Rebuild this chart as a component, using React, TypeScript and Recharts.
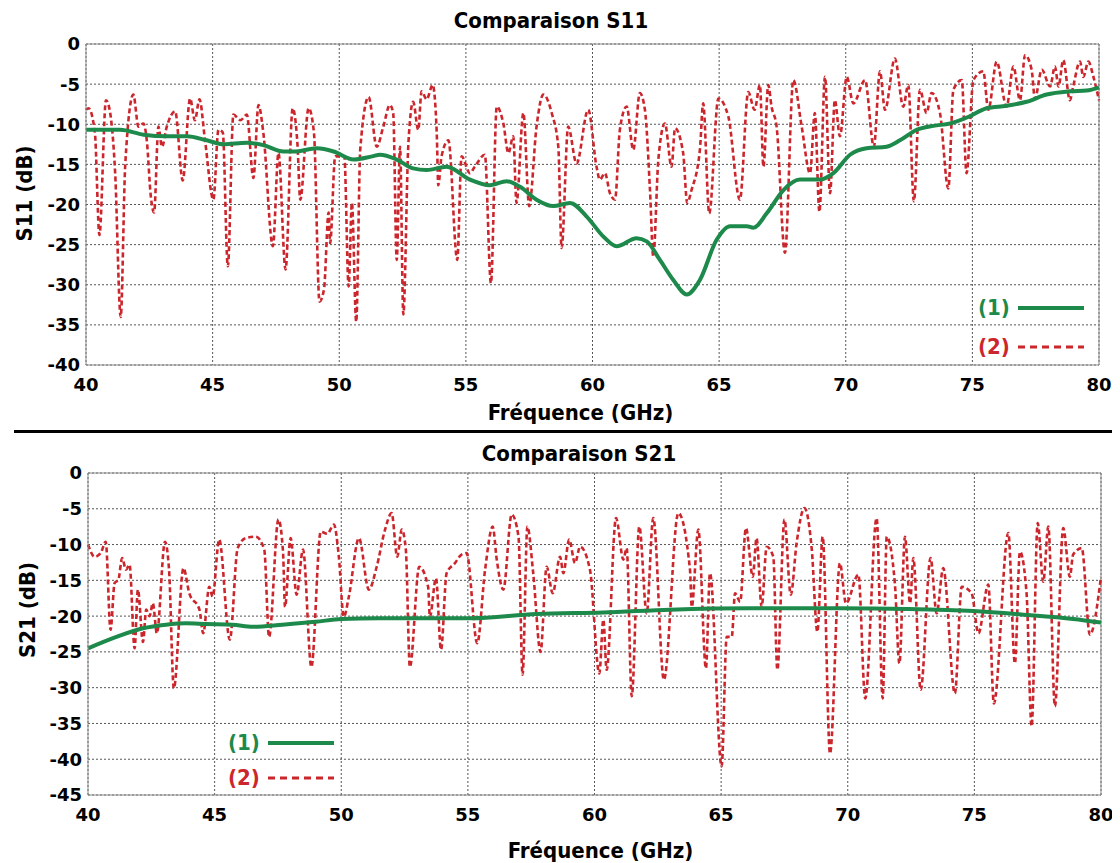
import { LineChart, Line, XAxis, YAxis, CartesianGrid, ReferenceLine, Legend } from 'recharts';

const freqTicks = [40, 45, 50, 55, 60, 65, 70, 75, 80];
const s11Ticks = [0, -5, -10, -15, -20, -25, -30, -35, -40];
const s21Ticks = [0, -5, -10, -15, -20, -25, -30, -35, -40, -45];

// (1) solid green curve, S11: [GHz, dB]
const s11Curve1: [number, number][] = [
  [40, -10.7], [41.34, -10.7], [42.27, -11.3], [43.19, -11.5], [43.98, -11.5], [44.77, -12.0],
  [45.43, -12.5], [46.35, -12.3], [47.0, -12.6], [47.8, -13.4], [48.2, -13.4], [49.12, -13.0],
  [49.78, -13.4], [50.57, -14.4], [51.3, -14.0], [51.61, -13.8], [52.27, -14.4], [52.92, -15.5],
  [53.45, -15.7], [54.24, -15.3], [55.16, -16.9], [55.95, -17.6], [56.61, -17.1], [57.14, -17.8],
  [57.79, -19.4], [58.45, -20.2], [59.11, -19.8], [59.77, -21.5], [60.43, -24.0], [60.95, -25.2],
  [61.74, -24.2], [62.14, -24.6], [62.66, -26.9], [63.19, -29.4], [63.72, -31.2], [64.24, -29.4],
  [64.9, -24.4], [65.43, -22.7], [66.09, -22.7], [66.35, -22.9], [66.88, -21.1], [67.54, -18.2],
  [68.19, -16.9], [68.98, -16.9], [69.51, -16.1], [70.17, -13.8], [70.82, -13.0], [71.61, -12.8],
  [72.14, -12.0], [72.8, -10.7], [73.46, -10.2], [74.12, -9.9], [74.9, -9.0], [75.56, -8.0],
  [76.35, -7.7], [77.14, -7.2], [77.93, -6.3], [78.85, -5.9], [79.51, -5.8], [80, -5.4],
];

// (2) dashed red curve, S11
const s11Curve2: [number, number][] = [
  [40.0, -8.2], [40.1, -8.0], [40.35, -11], [40.53, -23.8], [40.79, -7.0], [40.95, -8.5],
  [41.15, -16], [41.37, -34.0], [41.55, -15], [41.87, -6.3], [42.07, -10.3], [42.27, -9.9],
  [42.4, -12], [42.56, -19.0], [42.69, -21.0], [42.86, -10.3], [43.0, -12.8], [43.19, -10.3],
  [43.52, -8.4], [43.82, -17.0], [44.11, -6.8], [44.3, -9.5], [44.48, -6.9], [44.7, -12],
  [45.03, -19.4], [45.23, -10.7], [45.4, -11], [45.6, -27.7], [45.82, -8.8], [46.1, -9.5],
  [46.35, -8.8], [46.61, -16.7], [46.81, -7.6], [47.0, -11], [47.38, -25.2], [47.6, -13.6],
  [47.88, -28.1], [48.16, -8.0], [48.35, -12.5], [48.46, -19.4], [48.79, -8.0], [49.0, -11],
  [49.22, -32.1], [49.4, -30.5], [49.58, -21.0], [49.64, -24.8], [49.84, -14.0], [50.2, -14.0],
  [50.37, -30.2], [50.5, -19.8], [50.67, -34.6], [50.83, -13.1], [51.16, -6.6], [51.48, -12.8],
  [51.74, -10.3], [52.0, -7.6], [52.13, -8.6], [52.27, -26.9], [52.4, -12.8], [52.53, -33.7],
  [52.73, -12.4], [52.92, -7.2], [53.12, -10.7], [53.25, -5.9], [53.45, -6.9], [53.69, -5.1],
  [53.85, -11.1], [53.91, -17.6], [54.04, -14.0], [54.31, -12.0], [54.66, -26.9], [54.83, -14.0],
  [55.16, -16.1], [55.35, -15.3], [55.75, -13.8], [55.99, -29.8], [56.22, -7.8], [56.48, -9.9],
  [56.68, -13.6], [56.87, -11.5], [57.0, -19.8], [57.27, -8.6], [57.5, -20.2], [57.79, -10.3],
  [58.06, -6.3], [58.39, -8.6], [58.65, -12.8], [58.78, -25.4], [59.04, -10.3], [59.37, -14.9],
  [59.83, -8.2], [60.16, -15.3], [60.29, -16.9], [60.49, -16.1], [60.69, -18.6], [60.89, -19.4],
  [61.08, -10.7], [61.35, -7.8], [61.61, -13.2], [61.87, -6.1], [62.07, -8.2], [62.27, -18.2],
  [62.4, -26.5], [62.6, -14.4], [62.86, -9.9], [63.12, -15.3], [63.26, -10.5], [63.58, -13.6],
  [63.74, -19.8], [63.91, -18.2], [64.24, -13.2], [64.37, -7.4], [64.61, -21.1], [64.97, -6.8],
  [65.36, -9.0], [65.82, -19.4], [66.15, -6.0], [66.4, -8.2], [66.61, -5.1], [66.75, -15.3],
  [66.94, -5.1], [67.07, -7.8], [67.27, -10.3], [67.6, -26.0], [67.93, -4.5], [68.26, -10.3],
  [68.59, -16.1], [68.78, -8.6], [68.96, -20.9], [69.18, -4.1], [69.38, -18.6], [69.57, -7.0],
  [69.77, -11.5], [70.04, -4.1], [70.3, -7.4], [70.76, -4.5], [71.11, -12.8], [71.35, -3.4],
  [71.55, -8.2], [71.94, -1.8], [72.27, -7.8], [72.47, -5.1], [72.69, -19.6], [72.93, -5.7],
  [73.19, -8.6], [73.39, -6.1], [73.72, -8.6], [74.05, -18.0], [74.25, -5.7], [74.58, -4.5],
  [74.77, -16.1], [75.04, -4.5], [75.43, -3.4], [75.63, -8.2], [75.96, -2.2], [76.35, -7.8],
  [76.62, -2.8], [76.88, -7.0], [77.08, -1.4], [77.34, -3.2], [77.47, -6.8], [77.74, -3.2],
  [78.07, -5.3], [78.26, -2.8], [78.4, -5.3], [78.59, -2.0], [78.85, -7.0], [78.98, -5.3],
  [79.25, -2.2], [79.38, -4.1], [79.58, -2.2], [79.78, -4.1], [80.0, -7.0],
];

// (1) solid green curve, S21
const s21Curve1: [number, number][] = [
  [40, -24.5], [41.12, -22.9], [42.17, -21.7], [43.08, -21.2], [43.87, -21.0], [44.66, -21.1],
  [45.71, -21.2], [46.5, -21.5], [47.68, -21.2], [48.99, -20.8], [50, -20.4], [51.5, -20.3],
  [55.08, -20.3], [57.71, -19.7], [60.35, -19.5], [62.98, -19.1], [66.14, -18.9], [69.69, -18.9],
  [72.33, -19.0], [74.96, -19.3], [76.93, -19.8], [78.9, -20.4], [80, -20.9],
];

// (2) dashed red curve, S21
const s21Curve2: [number, number][] = [
  [40.0, -10.0], [40.26, -11.7], [40.5, -11.2], [40.7, -9.6], [40.89, -21.9], [41.05, -15.4],
  [41.2, -14.9], [41.35, -11.9], [41.5, -13.5], [41.64, -12.8], [41.84, -24.5], [41.97, -16.3],
  [42.17, -23.6], [42.3, -19.1], [42.43, -20.0], [42.56, -18.2], [42.72, -22.4], [43.04, -9.6],
  [43.2, -13.5], [43.39, -30.1], [43.77, -13.3], [44.0, -16.8], [44.4, -19.1], [44.55, -22.4],
  [44.79, -15.9], [44.92, -17.3], [45.18, -9.3], [45.6, -23.3], [45.91, -10.5], [46.23, -9.1],
  [46.63, -8.9], [46.96, -10.7], [47.15, -22.9], [47.52, -6.5], [47.7, -11], [47.78, -18.7],
  [48.0, -9.1], [48.24, -17.0], [48.49, -10.7], [48.82, -27.1], [49.19, -8.2], [49.45, -8.5],
  [49.71, -7.2], [49.9, -11.5], [50.1, -20.1], [50.3, -17.3], [50.7, -9.1], [51.09, -16.3],
  [51.4, -13.1], [51.73, -7.9], [51.99, -5.6], [52.21, -11.7], [52.39, -7.9], [52.55, -10.7],
  [52.71, -27.1], [53.08, -13.1], [53.43, -15.9], [53.5, -20.1], [53.74, -14.7], [53.94, -24.7],
  [54.16, -14.0], [54.49, -12.6], [54.75, -11.4], [54.95, -11.2], [55.37, -23.8], [55.68, -13.5],
  [55.98, -7.5], [56.14, -12.1], [56.4, -16.3], [56.73, -5.8], [57.0, -8.9], [57.16, -28.2],
  [57.35, -7.5], [57.58, -14.0], [57.87, -25.0], [58.11, -13.1], [58.35, -16.8], [58.64, -11.7],
  [58.77, -14.0], [59.0, -9.3], [59.23, -12.6], [59.43, -10.3], [59.82, -13.5], [60.19, -28.0],
  [60.35, -20.5], [60.48, -27.5], [60.85, -6.3], [61.14, -12.1], [61.27, -10.5], [61.47, -31.2],
  [61.77, -7.5], [62.06, -19.6], [62.32, -6.3], [62.74, -28.9], [63.31, -5.6], [63.77, -13.5],
  [63.84, -18.7], [64.1, -7.9], [64.4, -27.3], [64.56, -14.0], [65.02, -41.0], [65.22, -22.9],
  [65.42, -22.9], [65.55, -16.8], [65.75, -18.0], [65.98, -7.7], [66.25, -14.5], [66.4, -9.1],
  [66.6, -18.7], [66.8, -10.3], [67.06, -11.7], [67.22, -27.5], [67.5, -6.5], [67.75, -17.0],
  [67.98, -9.8], [68.29, -4.9], [68.58, -10.7], [68.8, -22.2], [69.01, -8.9], [69.3, -39.2],
  [69.69, -12.6], [69.93, -18.2], [70.42, -14.2], [70.69, -31.5], [71.14, -6.3], [71.38, -31.5],
  [71.54, -8.9], [71.86, -15.4], [72.04, -26.6], [72.26, -8.9], [72.46, -18.2], [72.59, -11.9],
  [72.88, -30.3], [73.27, -11.9], [73.51, -19.6], [73.77, -13.3], [74.23, -30.8], [74.5, -15.9],
  [74.89, -16.8], [75.16, -22.4], [75.55, -15.6], [75.77, -32.2], [76.34, -8.4], [76.6, -26.6],
  [76.8, -11.0], [77.06, -16.8], [77.26, -35.4], [77.5, -7.0], [77.72, -15.2], [77.92, -7.5],
  [78.18, -32.6], [78.51, -7.7], [78.77, -14.5], [78.9, -11.4], [79.24, -10.5], [79.56, -22.6],
  [80.0, -14.5],
];

const GREEN = '#1d8a4b';
const RED = '#cc262d';
const FONT = '"DejaVu Sans Condensed", "DejaVu Sans", Verdana, sans-serif';
const TICK_FONT = '"DejaVu Sans", Verdana, sans-serif';

const toPoints = (pts: [number, number][]) => pts.map(([f, db]) => ({ f, db }));

const tickStyle = { fill: '#000', fontSize: 18, fontWeight: 700, fontFamily: TICK_FONT };
const labelStyle = { fill: '#000', fontSize: 22, fontWeight: 700, fontFamily: FONT };

function LegendRows({ rowGap, textW }: { rowGap: number; textW: number }) {
  const rows = [
    { name: '(1)', color: GREEN, dash: undefined, w: 4 },
    { name: '(2)', color: RED, dash: '7 5', w: 3 },
  ];
  return (
    <div style={{ fontFamily: FONT, fontWeight: 700, fontSize: 22 }}>
      {rows.map((r) => (
        <div key={r.name} style={{ display: 'flex', alignItems: 'center', height: rowGap }}>
          <span style={{ color: r.color, width: textW }}>{r.name}</span>
          <svg width={68} height={10}>
            <line x1={0} y1={5} x2={66} y2={5} stroke={r.color} strokeWidth={r.w} strokeDasharray={r.dash} />
          </svg>
        </div>
      ))}
    </div>
  );
}

interface PanelProps {
  title: string;
  yName: string;
  yTicks: number[];
  yMin: number;
  curve1: [number, number][];
  curve2: [number, number][];
  height: number;
  marginTop: number;
  marginRight: number;
  yWidth: number;
  xHeight: number;
  titleX: number;
  titleY: number;
  xLabelDx: number;
  xLabelOffset: number;
  yLabelX: number;
  yLabelDy: number;
  legendLeft: number;
  legendTop: number;
  legendGap: number;
}

function Panel(p: PanelProps) {
  return (
    <div style={{ position: 'relative', width: 1112, height: p.height }}>
      <div
        style={{
          position: 'absolute', left: p.titleX - 200, top: p.titleY - 13, width: 400, lineHeight: '26px',
          textAlign: 'center', fontFamily: FONT, fontWeight: 700, fontSize: 22,
        }}
      >
        {p.title}
      </div>
      <LineChart width={1112} height={p.height} margin={{ top: p.marginTop, right: p.marginRight, bottom: 0, left: 0 }}>
        <CartesianGrid stroke="#555" strokeDasharray="2 2" />
        <XAxis
          dataKey="f"
          type="number"
          domain={[40, 80]}
          ticks={freqTicks}
          allowDuplicatedCategory={false}
          height={p.xHeight}
          stroke="#8c8c8c"
          tickLine={false}
          tickSize={0}
          tickMargin={13}
          tick={tickStyle}
          label={{ value: 'Fréquence (GHz)', position: 'insideBottom', offset: p.xLabelOffset, dx: p.xLabelDx, style: labelStyle }}
        />
        <YAxis
          dataKey="db"
          type="number"
          domain={[p.yMin, 0]}
          ticks={p.yTicks}
          width={p.yWidth}
          stroke="#8c8c8c"
          tickLine={false}
          tickSize={0}
          tickMargin={6}
          tick={tickStyle}
          label={{ value: p.yName, angle: -90, position: 'insideLeft', offset: p.yLabelX, dy: p.yLabelDy, style: { ...labelStyle, textAnchor: 'middle' } }}
        />
        <ReferenceLine y={0} stroke="#8c8c8c" />
        <ReferenceLine x={80} stroke="#8c8c8c" />
        <Line
          data={toPoints(p.curve2)}
          dataKey="db"
          name="(2)"
          type="monotone"
          stroke={RED}
          strokeWidth={2.6}
          strokeDasharray="5 3"
          dot={false}
          isAnimationActive={false}
        />
        <Line
          data={toPoints(p.curve1)}
          dataKey="db"
          name="(1)"
          type="monotone"
          stroke={GREEN}
          strokeWidth={4}
          dot={false}
          isAnimationActive={false}
        />
        <Legend
          layout="vertical"
          verticalAlign="middle"
          align="center"
          wrapperStyle={{ left: p.legendLeft, top: p.legendTop, width: 140 }}
          content={() => <LegendRows rowGap={p.legendGap} textW={40} />}
        />
      </LineChart>
    </div>
  );
}

export default function App() {
  return (
    <div style={{ position: 'relative', width: 1112, height: 855 }}>
      <Panel
        title="Comparaison S11"
        yName="S11 (dB)"
        yTicks={s11Ticks}
        yMin={-40}
        curve1={s11Curve1}
        curve2={s11Curve2}
        height={424}
        marginTop={36}
        marginRight={21}
        yWidth={78}
        xHeight={67}
        titleX={543}
        titleY={13}
        xLabelDx={-12}
        xLabelOffset={12}
        yLabelX={16}
        yLabelDy={-11}
        legendLeft={970}
        legendTop={280}
        legendGap={39}
      />
      <div style={{ position: 'absolute', left: 6, top: 422, width: 1106, height: 3, background: '#000' }} />
      <Panel
        title="Comparaison S21"
        yName="S21 (dB)"
        yTicks={s21Ticks}
        yMin={-45}
        curve1={s21Curve1}
        curve2={s21Curve2}
        height={431}
        marginTop={41}
        marginRight={19}
        yWidth={80}
        xHeight={68}
        titleX={571}
        titleY={22}
        xLabelDx={6}
        xLabelOffset={5}
        yLabelX={19}
        yLabelDy={-24}
        legendLeft={220}
        legendTop={293}
        legendGap={35}
      />
    </div>
  );
}
